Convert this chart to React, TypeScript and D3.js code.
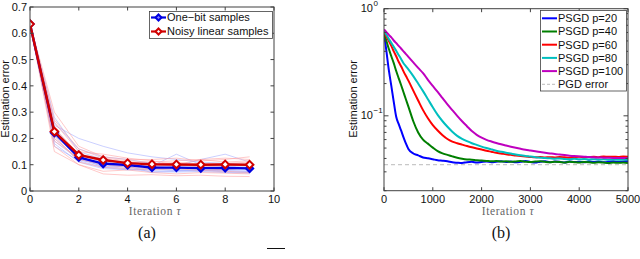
import React from "react";
import * as d3 from "d3";

// ---------- Left panel (a) data ----------
const leftIters = [0, 1, 2, 3, 4, 5, 6, 7, 8, 9];
const oneBitMean = [0.635, 0.222, 0.128, 0.104, 0.099, 0.089, 0.089, 0.087, 0.088, 0.086];
const noisyMean = [0.635, 0.226, 0.137, 0.118, 0.106, 0.102, 0.101, 0.1, 0.101, 0.1];
const oneBitTrials = [
  [0.635, 0.2, 0.12, 0.095, 0.085, 0.08, 0.078, 0.076, 0.078, 0.075],
  [0.635, 0.25, 0.2, 0.17, 0.145, 0.13, 0.12, 0.11, 0.105, 0.1],
  [0.635, 0.18, 0.11, 0.085, 0.082, 0.075, 0.072, 0.074, 0.07, 0.068],
  [0.635, 0.23, 0.14, 0.11, 0.1, 0.095, 0.14, 0.1, 0.095, 0.09],
  [0.635, 0.28, 0.15, 0.12, 0.11, 0.1, 0.095, 0.12, 0.14, 0.11],
  [0.635, 0.21, 0.13, 0.1, 0.09, 0.085, 0.088, 0.09, 0.082, 0.08],
  [0.635, 0.24, 0.13, 0.09, 0.095, 0.07, 0.075, 0.08, 0.072, 0.07],
  [0.635, 0.19, 0.12, 0.1, 0.105, 0.09, 0.082, 0.085, 0.09, 0.088],
  [0.635, 0.26, 0.16, 0.13, 0.12, 0.105, 0.1, 0.095, 0.1, 0.095],
  [0.635, 0.17, 0.115, 0.09, 0.08, 0.085, 0.078, 0.08, 0.076, 0.074],
];
const noisyTrials = [
  [0.635, 0.15, 0.1, 0.075, 0.08, 0.07, 0.065, 0.07, 0.068, 0.065],
  [0.635, 0.3, 0.17, 0.13, 0.12, 0.12, 0.125, 0.115, 0.12, 0.13],
  [0.635, 0.22, 0.13, 0.12, 0.11, 0.1, 0.11, 0.1, 0.105, 0.11],
  [0.635, 0.26, 0.15, 0.14, 0.125, 0.115, 0.1, 0.12, 0.125, 0.12],
  [0.635, 0.2, 0.12, 0.1, 0.09, 0.085, 0.09, 0.085, 0.08, 0.09],
  [0.635, 0.24, 0.14, 0.11, 0.095, 0.1, 0.095, 0.105, 0.1, 0.1],
  [0.635, 0.21, 0.11, 0.09, 0.085, 0.08, 0.085, 0.078, 0.075, 0.07],
  [0.635, 0.17, 0.1, 0.065, 0.06, 0.062, 0.058, 0.06, 0.056, 0.055],
  [0.635, 0.27, 0.16, 0.125, 0.115, 0.11, 0.115, 0.12, 0.11, 0.115],
  [0.635, 0.19, 0.125, 0.105, 0.1, 0.095, 0.085, 0.095, 0.09, 0.085],
];
const leftXTicks = [0, 2, 4, 6, 8, 10];
const leftYTicks = [0, 0.1, 0.2, 0.3, 0.4, 0.5, 0.6, 0.7];
const leftLegend = ["One\u2212bit samples", "Noisy linear samples"];

// ---------- Right panel (b) data ----------
const rightIters = [
  0, 50, 100, 150, 200, 250, 300, 350, 400, 450, 500,
  600, 700, 800, 900, 1000, 1100, 1200, 1300, 1400, 1500,
  1600, 1700, 1800, 1900, 2000, 2100, 2200, 2300, 2400, 2500,
  2600, 2700, 2800, 2900, 3000, 3100, 3200, 3300, 3400, 3500,
  3600, 3700, 3800, 3900, 4000, 4100, 4200, 4300, 4400, 4500,
  4600, 4700, 4800, 4900, 5000,
];
const psgd20 = [
  0.6, 0.4, 0.265, 0.19, 0.135, 0.098, 0.084, 0.073, 0.063, 0.055, 0.049,
  0.0445, 0.0428, 0.0408, 0.0401, 0.0393, 0.0385, 0.0381, 0.0376, 0.0368, 0.0365,
  0.0363, 0.0369, 0.0372, 0.0366, 0.0371, 0.0375, 0.0368, 0.0373, 0.0377, 0.037,
  0.0374, 0.0368, 0.0372, 0.0378, 0.0371, 0.0366, 0.0373, 0.0376, 0.0369, 0.0374,
  0.0372, 0.0367, 0.0375, 0.037, 0.0373, 0.0368, 0.0376, 0.0371, 0.0374, 0.0369,
  0.0372, 0.0377, 0.037, 0.0374, 0.0378,
];
const psgd40 = [
  0.58, 0.5, 0.42, 0.36, 0.31, 0.262, 0.225, 0.194, 0.166, 0.142, 0.122,
  0.089, 0.07, 0.06, 0.055, 0.0505, 0.0468, 0.0446, 0.0432, 0.0418, 0.0406,
  0.0398, 0.0392, 0.0389, 0.0385, 0.0382, 0.0379, 0.0376, 0.0379, 0.0374, 0.0377,
  0.0372, 0.0375, 0.0378, 0.0373, 0.037, 0.0374, 0.0377, 0.0372, 0.0369, 0.0373,
  0.0371, 0.0367, 0.0372, 0.0369, 0.0366, 0.037, 0.0368, 0.0364, 0.0369, 0.0366,
  0.0363, 0.0367, 0.0364, 0.0366, 0.0363,
];
const psgd60 = [
  0.61, 0.55, 0.5, 0.45, 0.4, 0.36, 0.32, 0.29, 0.26, 0.235, 0.213,
  0.172, 0.139, 0.113, 0.095, 0.082, 0.073, 0.066, 0.0608, 0.0575, 0.0555,
  0.0538, 0.0522, 0.0508, 0.0496, 0.0484, 0.0472, 0.0462, 0.0452, 0.0445, 0.0437,
  0.0432, 0.0426, 0.0421, 0.0418, 0.0413, 0.041, 0.0412, 0.0408, 0.0411, 0.0409,
  0.0413, 0.041, 0.0407, 0.0411, 0.0414, 0.041, 0.0412, 0.0415, 0.0411, 0.0418,
  0.0414, 0.0416, 0.0413, 0.0417, 0.0415,
];
const psgd80 = [
  0.62, 0.57, 0.52, 0.48, 0.44, 0.405, 0.37, 0.34, 0.31, 0.29, 0.272,
  0.235, 0.2, 0.17, 0.143, 0.12, 0.102, 0.089, 0.079, 0.071, 0.065,
  0.061, 0.058, 0.0555, 0.0535, 0.0516, 0.05, 0.0486, 0.0473, 0.0462, 0.0452,
  0.0444, 0.0436, 0.0429, 0.0422, 0.0417, 0.0411, 0.0407, 0.0403, 0.0401, 0.0398,
  0.04, 0.0396, 0.0394, 0.0397, 0.0393, 0.0395, 0.0392, 0.0394, 0.0391, 0.0393,
  0.039, 0.0392, 0.0389, 0.0391, 0.039,
];
const psgd100 = [
  0.64, 0.605, 0.57, 0.54, 0.505, 0.478, 0.45, 0.425, 0.4, 0.377, 0.355,
  0.315, 0.28, 0.25, 0.217, 0.19, 0.167, 0.146, 0.128, 0.113, 0.1,
  0.089, 0.08, 0.072, 0.0665, 0.0625, 0.0597, 0.0576, 0.0558, 0.0542, 0.0528,
  0.0515, 0.0503, 0.0492, 0.0482, 0.0474, 0.0466, 0.0459, 0.0452, 0.0446, 0.044,
  0.0435, 0.043, 0.0425, 0.0421, 0.0418, 0.0415, 0.0412, 0.041, 0.0408, 0.0407,
  0.0406, 0.0405, 0.0405, 0.0404, 0.0404,
];
const pgdError = 0.035;
const rightSeries = [
  { name: "PSGD p=20", values: psgd20, color: "#0000ff" },
  { name: "PSGD p=40", values: psgd40, color: "#007f00" },
  { name: "PSGD p=60", values: psgd60, color: "#ff0000" },
  { name: "PSGD p=80", values: psgd80, color: "#00bfbf" },
  { name: "PSGD p=100", values: psgd100, color: "#bf00bf" },
];
const rightXTicks = [0, 1000, 2000, 3000, 4000, 5000];
const rightYMajor = [1, 0.1];
const rightYMajorExp = ["0", "\u22121"];
const rightYMinor = [0.02, 0.03, 0.04, 0.05, 0.06, 0.07, 0.08, 0.09, 0.2, 0.3, 0.4, 0.5, 0.6, 0.7, 0.8, 0.9];

const SANS = "Arial, 'Liberation Sans', Helvetica, sans-serif";
const SERIF = "'Liberation Serif', 'Times New Roman', serif";
const AX = "#404040";
const TICK = 3.5;

function Diamond({ cx, cy, r, color, fill }: { cx: number; cy: number; r: number; color: string; fill: string }) {
  return (
    <path
      d={`M${cx},${cy - r}L${cx + r},${cy}L${cx},${cy + r}L${cx - r},${cy}Z`}
      fill={fill}
      stroke={color}
      strokeWidth={2}
    />
  );
}

export default function App() {
  // Left scales
  const xL = d3.scaleLinear().domain([0, 10]).range([30, 274]);
  const yL = d3.scaleLinear().domain([0, 0.7]).range([191, 7]);
  const lineL = d3
    .line<number>()
    .x((_, i) => xL(leftIters[i]))
    .y((d) => yL(d));

  // Right scales
  const xR = d3.scaleLinear().domain([0, 5000]).range([384, 628]);
  const yR = d3.scaleLog().domain([0.02, 1]).range([190.7, 8.7]);
  const lineR = d3
    .line<number>()
    .x((_, i) => xR(rightIters[i]))
    .y((d) => yR(d))
    .curve(d3.curveMonotoneX);

  const L = { x0: 30, x1: 274, y0: 7, y1: 191 };
  const R = { x0: 384, x1: 628, y0: 8.7, y1: 190.7 };

  return (
    <svg
      width={640}
      height={259}
      style={{ position: "absolute", left: 0, top: 0, background: "#fff" }}
      fontFamily={SANS}
    >
      <rect x={0} y={0} width={640} height={259} fill="#fff" />

      <defs>
        <clipPath id="clipL">
          <rect x={L.x0} y={L.y0} width={L.x1 - L.x0} height={L.y1 - L.y0} />
        </clipPath>
        <clipPath id="clipR">
          <rect x={R.x0} y={R.y0} width={R.x1 - R.x0} height={R.y1 - R.y0} />
        </clipPath>
      </defs>

      {/* ===== Left panel ===== */}
      <g clipPath="url(#clipL)">
        {oneBitTrials.map((t, i) => (
          <path key={"bt" + i} d={lineL(t) || ""} fill="none" stroke="#9ea8ff" strokeOpacity={0.6} strokeWidth={0.9} />
        ))}
        {noisyTrials.map((t, i) => (
          <path key={"rt" + i} d={lineL(t) || ""} fill="none" stroke="#ff9a9a" strokeOpacity={0.6} strokeWidth={0.9} />
        ))}
        <path d={lineL(oneBitMean) || ""} fill="none" stroke="#0000e0" strokeWidth={2.4} />
        {oneBitMean.map((v, i) => (
          <Diamond key={"bm" + i} cx={xL(leftIters[i])} cy={yL(v)} r={3.6} color="#0000e0" fill="#2a2aff" />
        ))}
        <path d={lineL(noisyMean) || ""} fill="none" stroke="#d00000" strokeWidth={2.4} />
        {noisyMean.map((v, i) => (
          <Diamond key={"rm" + i} cx={xL(leftIters[i])} cy={yL(v)} r={3.8} color="#d00000" fill="#fff" />
        ))}
      </g>

      <rect x={L.x0} y={L.y0} width={L.x1 - L.x0} height={L.y1 - L.y0} fill="none" stroke={AX} strokeWidth={1} />
      {leftXTicks.map((t) => (
        <g key={"lx" + t}>
          <line x1={xL(t)} x2={xL(t)} y1={L.y1} y2={L.y1 - TICK} stroke={AX} />
          <line x1={xL(t)} x2={xL(t)} y1={L.y0} y2={L.y0 + TICK} stroke={AX} />
          <text x={xL(t)} y={202.5} fontSize={11} textAnchor="middle" fill="#111">
            {t}
          </text>
        </g>
      ))}
      {leftYTicks.map((t) => (
        <g key={"ly" + t}>
          <line x1={L.x0} x2={L.x0 + TICK} y1={yL(t)} y2={yL(t)} stroke={AX} />
          <line x1={L.x1} x2={L.x1 - TICK} y1={yL(t)} y2={yL(t)} stroke={AX} />
          <text x={27} y={yL(t)} dy="0.36em" fontSize={11} textAnchor="end" fill="#111">
            {t === 0 ? "0" : t.toFixed(1)}
          </text>
        </g>
      ))}
      <text x={9} y={99} fontSize={11} textAnchor="middle" transform="rotate(-90 9 99)" fill="#111">
        Estimation error
      </text>
      <text x={155} y={214.5} fontSize={11.5} letterSpacing={0.6} textAnchor="middle" fontFamily={SERIF} fill="#666">
        Iteration <tspan fontStyle="italic">τ</tspan>
      </text>
      <text x={147} y={238} fontSize={16} textAnchor="middle" fontFamily={SERIF} fill="#111">
        (a)
      </text>

      {/* left legend */}
      <rect x={149.5} y={11.5} width={123} height={27} fill="#fff" stroke={AX} strokeWidth={0.8} />
      {leftLegend.map((name, i) => {
        const y = 17.5 + i * 14;
        const c = i === 0 ? "#0000e0" : "#d00000";
        return (
          <g key={"ll" + i}>
            <line x1={151} x2={166} y1={y} y2={y} stroke={c} strokeWidth={2.2} />
            <Diamond cx={158.5} cy={y} r={3} color={c} fill={i === 0 ? "#8080ff" : "#fff"} />
            <text x={167} y={y} dy="0.36em" fontSize={11} fill="#111">
              {name}
            </text>
          </g>
        );
      })}

      {/* ===== Right panel ===== */}
      <line
        x1={R.x0}
        x2={R.x1}
        y1={yR(pgdError)}
        y2={yR(pgdError)}
        stroke="#c8c8c8"
        strokeWidth={1.3}
        strokeDasharray="4 3"
      />
      <g clipPath="url(#clipR)">
        {rightSeries.map((s) => (
          <path key={s.name} d={lineR(s.values) || ""} fill="none" stroke={s.color} strokeWidth={2} strokeLinejoin="round" />
        ))}
      </g>

      <rect x={R.x0} y={R.y0} width={R.x1 - R.x0} height={R.y1 - R.y0} fill="none" stroke={AX} strokeWidth={1} />
      {rightXTicks.map((t) => (
        <g key={"rx" + t}>
          <line x1={xR(t)} x2={xR(t)} y1={R.y1} y2={R.y1 - TICK} stroke={AX} />
          <line x1={xR(t)} x2={xR(t)} y1={R.y0} y2={R.y0 + TICK} stroke={AX} />
          <text x={xR(t)} y={202.5} fontSize={11} textAnchor="middle" fill="#111">
            {t}
          </text>
        </g>
      ))}
      {rightYMajor.map((t, i) => (
        <g key={"ry" + t}>
          <line x1={R.x0} x2={R.x0 + TICK + 1} y1={yR(t)} y2={yR(t)} stroke={AX} />
          <line x1={R.x1} x2={R.x1 - TICK - 1} y1={yR(t)} y2={yR(t)} stroke={AX} />
          <text x={373} y={yR(t) + 3} fontSize={11} textAnchor="end" fill="#111">
            10
          </text>
          <text x={373.5} y={yR(t) - 3} fontSize={8} textAnchor="start" fill="#111">
            {rightYMajorExp[i]}
          </text>
        </g>
      ))}
      {rightYMinor.map((t) => (
        <g key={"rym" + t}>
          <line x1={R.x0} x2={R.x0 + 2.5} y1={yR(t)} y2={yR(t)} stroke={AX} />
          <line x1={R.x1} x2={R.x1 - 2.5} y1={yR(t)} y2={yR(t)} stroke={AX} />
        </g>
      ))}
      <text x={357} y={99} fontSize={11} textAnchor="middle" transform="rotate(-90 357 99)" fill="#111">
        Estimation error
      </text>
      <text x={508} y={214.5} fontSize={11.5} letterSpacing={0.6} textAnchor="middle" fontFamily={SERIF} fill="#666">
        Iteration <tspan fontStyle="italic">τ</tspan>
      </text>
      <text x={501} y={238} fontSize={16} textAnchor="middle" fontFamily={SERIF} fill="#111">
        (b)
      </text>

      {/* right legend */}
      <rect x={540.5} y={10.5} width={86} height={80.5} fill="#fff" stroke={AX} strokeWidth={0.8} />
      {rightSeries.map((s, i) => {
        const y = 18.3 + i * 13.2;
        return (
          <g key={"rl" + i}>
            <line x1={542} x2={557} y1={y} y2={y} stroke={s.color} strokeWidth={2} />
            <text x={558} y={y} dy="0.36em" fontSize={11} fill="#111">
              {s.name}
            </text>
          </g>
        );
      })}
      <g>
        <line x1={542} x2={557} y1={18.3 + 5 * 13.2} y2={18.3 + 5 * 13.2} stroke="#c8c8c8" strokeWidth={1.3} strokeDasharray="3 2" />
        <text x={558} y={18.3 + 5 * 13.2} dy="0.36em" fontSize={11} fill="#111">
          PGD error
        </text>
      </g>

      {/* small stray stroke at the bottom of the figure */}
      <line x1={267} x2={285} y1={248.5} y2={248.5} stroke="#111" strokeWidth={1} />
    </svg>
  );
}
